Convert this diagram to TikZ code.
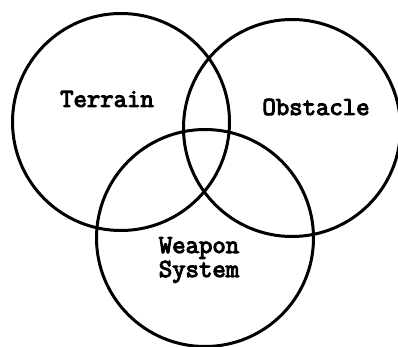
\documentclass[tikz,border=0pt]{standalone}
\usepackage{fontspec}
\setmonofont{Latin Modern Mono}[AutoFakeBold=4]
\usepackage{tikz}
\usetikzlibrary{positioning}

\begin{document}
\begin{tikzpicture}[
    x=1pt,y=-1pt,
    ring/.style={draw,circle,line width=3pt,minimum size=217pt,inner sep=0pt},
    lbl/.style={font=\fontsize{26}{24}\selectfont\ttfamily\bfseries,align=center,inner sep=0pt}
  ]
    \useasboundingbox (0,0) rectangle (398,347);
    \node[ring] (terrain) at (121,122) {};
    \node[ring] (obstacle) at (292,128) {};
    \node[ring] (weapon) at (205,238) {};

    \node[lbl] (terrainlbl) at (107,99) {Terrain};
    \node[lbl] (obstaclelbl) at (316,107) {Obstacle};
    \node[lbl] (weaponlbl) at (199,260) {Weapon\\System};
  \end{tikzpicture}
\end{document}
